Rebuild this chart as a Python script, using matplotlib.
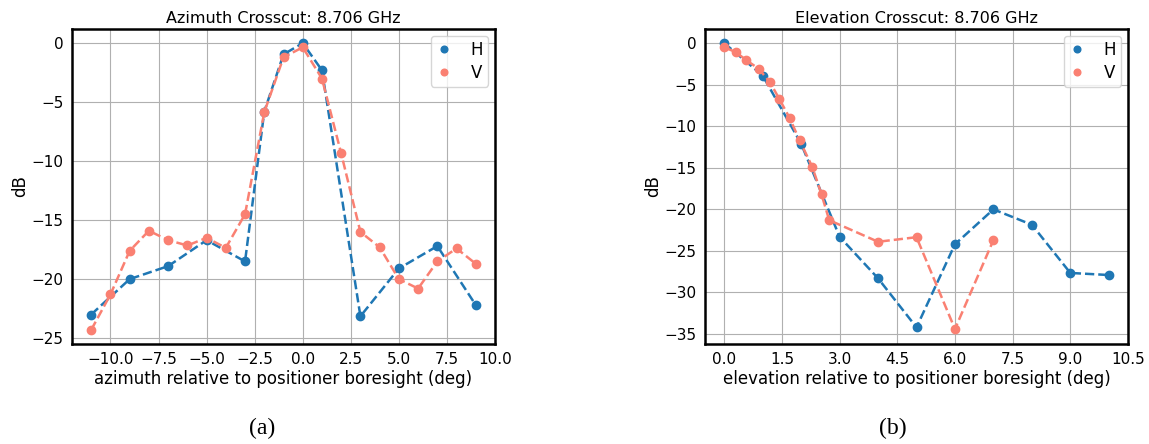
import numpy as np
import matplotlib
matplotlib.use('Agg')
import matplotlib.pyplot as plt

plt.rcParams['font.family'] = ['DejaVu Sans']

# azimuth crosscut
az_h_x = [-11, -9, -7, -5, -3, -2, -1, 0, 1, 3, 5, 7, 9]
az_h_y = [-23.0, -20.0, -18.9, -16.7, -18.5, -5.8, -0.95, 0.0, -2.3, -23.15, -19.1, -17.2, -22.2]
az_v_x = [-11, -10, -9, -8, -7, -6, -5, -4, -3, -2, -1, 0, 1, 2, 3, 4, 5, 6, 7, 8, 9]
az_v_y = [-24.3, -21.3, -17.6, -15.9, -16.7, -17.15, -16.5, -17.35, -14.5, -5.85, -1.2, -0.35,
          -3.0, -9.35, -16.0, -17.3, -20.0, -20.8, -18.5, -17.4, -18.7]

# elevation crosscut
el_h_x = [0, 1, 2, 3, 4, 5, 6, 7, 8, 9, 10]
el_h_y = [0.0, -3.9, -12.1, -23.3, -28.3, -34.2, -24.2, -20.0, -21.85, -27.65, -27.9]
el_v_x = [0, 0.3, 0.56, 0.9, 1.19, 1.43, 1.7, 1.96, 2.29, 2.53, 2.73, 4, 5, 6, 7]
el_v_y = [-0.5, -1.08, -2.0, -3.1, -4.7, -6.7, -9.0, -11.7, -14.9, -18.2, -21.3,
          -23.9, -23.35, -34.4, -23.7]

c_h = '#1f77b4'
c_v = 'salmon'

fig = plt.figure(figsize=(11.49, 4.44), dpi=100)
W, H = 1149, 444
ax1 = fig.add_axes([72 / W, 100 / H, 423 / W, 315 / H])
ax2 = fig.add_axes([705 / W, 100 / H, 423 / W, 315 / H])


def crosscut(ax, hx, hy, vx, vy, title, xlabel):
    ax.plot(hx, hy, 'o', color=c_h, ms=6, label='H', zorder=3)
    ax.plot(hx, hy, '--', color=c_h, lw=1.8, zorder=3)
    ax.plot(vx, vy, 'o', color=c_v, ms=6, label='V', zorder=3)
    ax.plot(vx, vy, '--', color=c_v, lw=1.8, zorder=3)
    ax.grid(True, color='#b0b0b0', lw=0.8)
    ax.set_axisbelow(True)
    ax.tick_params(direction='in', length=0, labelsize=11, pad=6)
    for s in ax.spines.values():
        s.set_linewidth(1.8)
    ax.set_title(title, fontsize=11.5, pad=4)
    ax.set_xlabel(xlabel, fontsize=12, labelpad=2)
    ax.set_ylabel('dB', fontsize=12, labelpad=2)
    ax.legend(loc='upper right', fontsize=12, markerscale=0.8, handlelength=1.0,
              borderpad=0.3, labelspacing=0.3, handletextpad=1.1, borderaxespad=0.4)


crosscut(ax1, az_h_x, az_h_y, az_v_x, az_v_y, 'Azimuth Crosscut: 8.706 GHz',
         'azimuth relative to positioner boresight (deg)')
ax1.set_xlim(-12, 10)
ax1.set_xticks(np.arange(-10, 10.1, 2.5))
ax1.set_ylim(-25.5, 1.2)

crosscut(ax2, el_h_x, el_h_y, el_v_x, el_v_y, 'Elevation Crosscut: 8.706 GHz',
         'elevation relative to positioner boresight (deg)')
ax2.set_xlim(-0.5, 10.5)
ax2.set_xticks(np.arange(0, 10.6, 1.5))
ax2.set_ylim(-36.2, 1.7)

fig.text(262 / W, 1 - 428 / H, '(a)', family='Liberation Serif', fontsize=17, ha='center', va='center')
fig.text(893 / W, 1 - 428 / H, '(b)', family='Liberation Serif', fontsize=17, ha='center', va='center')

fig.savefig('out.png', dpi=100)
